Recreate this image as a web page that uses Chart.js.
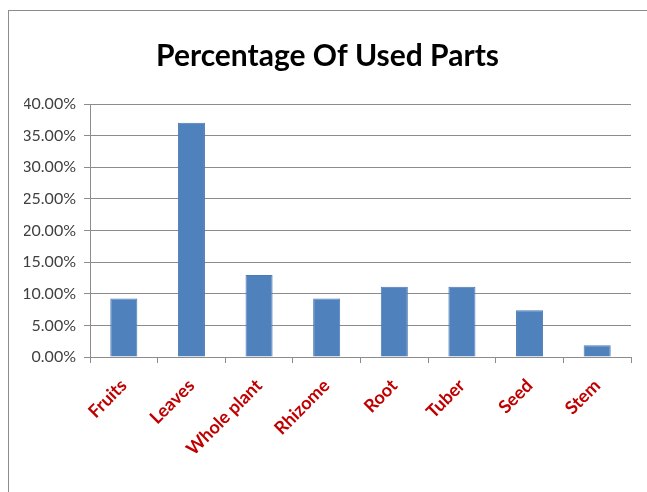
<!DOCTYPE html>
<html>
<head>
<meta charset="utf-8">
<script src="https://cdn.jsdelivr.net/npm/chart.js@4"></script>
<style>
  body { margin: 0; background: #fff; }
  #wrap { position: relative; width: 647px; height: 492px; overflow: hidden; }
  #frame { position: absolute; left: 8px; top: 10px; width: 700px; height: 600px; border: 1px solid #8c8c8c; }
  canvas { position: absolute; left: 0; top: 0; }
</style>
</head>
<body>
<div id="wrap">
  <div id="frame"></div>
  <canvas id="myChart" width="647" height="492"></canvas>
</div>
<script>
const parts = ['Fruits', 'Leaves', 'Whole plant', 'Rhizome', 'Root', 'Tuber', 'Seed', 'Stem'];
const percents = [9.26, 37.04, 12.96, 9.26, 11.11, 11.11, 7.41, 1.85];
const yTicks = [0, 5, 10, 15, 20, 25, 30, 35, 40];

const ctx = document.getElementById('myChart');

new Chart(ctx, {
  type: 'bar',
  data: {
    labels: parts,
    datasets: [{
      label: 'Percentage',
      data: percents,
      backgroundColor: '#4f81bd',
      borderColor: '#4a7ab5',
      borderWidth: 1,
      categoryPercentage: 1,
      barPercentage: 0.4
    }]
  },
  options: {
    responsive: false,
    animation: false,
    layout: { padding: { left: 24, right: 16, top: 38, bottom: 0 } },
    plugins: {
      legend: { display: false },
      tooltip: { enabled: false },
      title: {
        display: true,
        text: 'Percentage Of Used Parts',
        color: '#000',
        font: { family: 'Lato', size: 30, weight: 'bold' },
        padding: { top: 0, bottom: 30 }
      }
    },
    scales: {
      x: {
        grid: { drawOnChartArea: false, drawTicks: true, tickLength: 6, color: '#8c8c8c', offset: true },
        border: { color: '#8c8c8c' },
        ticks: {
          color: '#c00000',
          font: { family: 'Lato', size: 18, weight: 'bold' },
          minRotation: 45,
          maxRotation: 45,
          padding: 12
        },
        afterFit: (scale) => { scale.height = 135; }
      },
      y: {
        min: 0,
        max: 40,
        afterBuildTicks: (scale) => { scale.ticks = yTicks.map(v => ({ value: v })); },
        grid: { color: '#8c8c8c', tickLength: 6 },
        border: { color: '#8c8c8c' },
        ticks: {
          color: '#404040',
          font: { family: 'Lato', size: 16 },
          padding: 8,
          callback: (v) => v.toFixed(2) + '%'
        },
        afterFit: (scale) => { scale.width = 66; }
      }
    }
  }
});
</script>
</body>
</html>
